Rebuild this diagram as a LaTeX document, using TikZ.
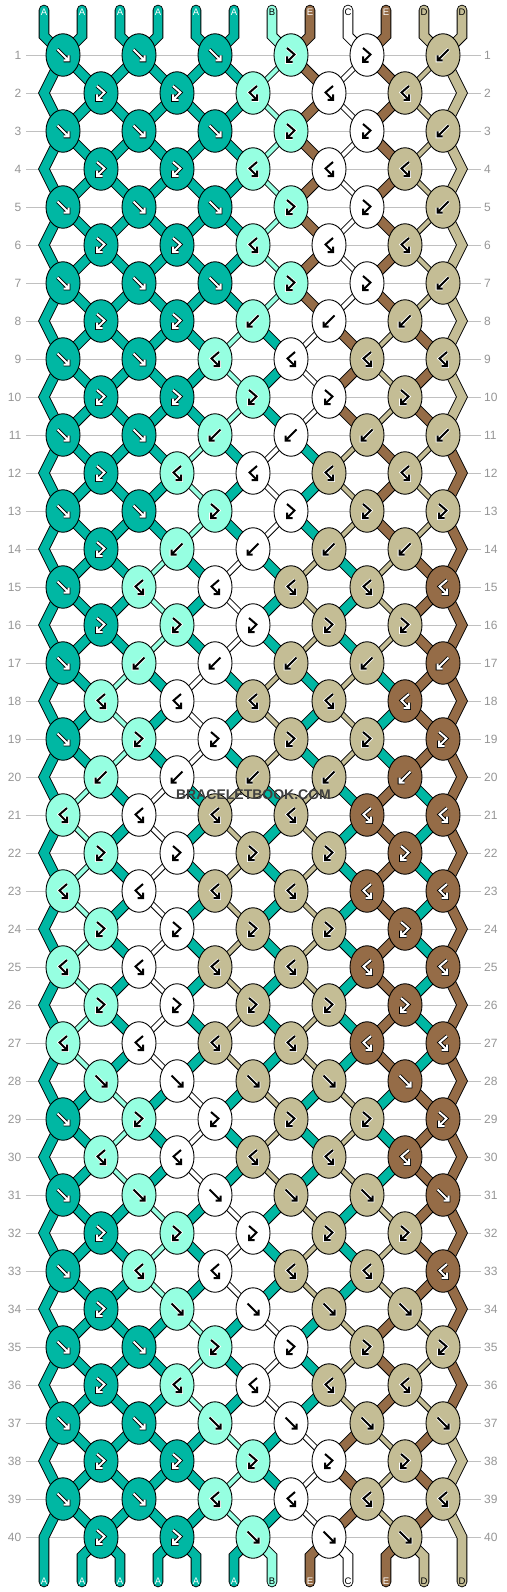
\documentclass[tikz,border=0pt]{standalone}
\usepackage{fontspec}
\setmainfont{Liberation Sans}
\usetikzlibrary{shapes.geometric}

\definecolor{thrA}{RGB}{0,183,163}
\definecolor{thrB}{RGB}{150,255,225}
\definecolor{thrC}{RGB}{255,255,255}
\definecolor{thrD}{RGB}{196,189,149}
\definecolor{thrE}{RGB}{149,108,71}
\definecolor{rowgray}{RGB}{192,192,192}
\definecolor{numgray}{RGB}{150,150,150}

\pgfdeclarelayer{grid}
\pgfdeclarelayer{threads}
\pgfsetlayers{grid,threads,main}

% colour of every string, kept across the rows
\newcommand\setstr[2]{\expandafter\xdef\csname str#1\endcsname{#2}}
\newcommand\getstr[1]{\csname str#1\endcsname}
\def\kindf{f}\def\kindb{b}\def\kindfb{fb}\def\kindbf{bf}

\tikzset{
  thread/.style={draw=black, line width=0.9pt, double=#1, double distance=8.8pt},
  thin thread/.style={draw=black, line width=0.9pt, double=#1, double distance=4.2pt},
  thread end/.style={thread=#1, line cap=round},
  knot/.style={ellipse, draw=black, line width=0.9pt, minimum width=34pt, minimum height=42.5pt, inner sep=0pt},
  pen dark/.style={draw=black, line width=0.8pt, double=white, double distance=2pt},
  pen light/.style={draw=white, line width=0.8pt, double=black, double distance=2pt},
  icon pen/.style={pen light},
  icon-f/.pic={\draw[icon pen] (-5.5,-5.5) -- (5.5,5.5) (0.5,5.5) -- (5.5,5.5) -- (5.5,0.5);},
  icon-b/.pic={\draw[icon pen] (5.5,-5.5) -- (-5.5,5.5) (-0.5,5.5) -- (-5.5,5.5) -- (-5.5,0.5);},
  icon-fb/.pic={\draw[icon pen] (-4,-7) -- (3.5,-0.5) -- (-4,7) (1.5,7) -- (-4,7) -- (-4,1.5);},
  icon-bf/.pic={\draw[icon pen] (4,-7) -- (-3.5,-0.5) -- (4,7) (-1.5,7) -- (4,7) -- (4,1.5);},
  rowline/.style={draw=rowgray, line width=0.9pt},
  rownum/.style={text=numgray, inner sep=0pt, font=\fontsize{12}{14}\selectfont},
  endtag/.style={inner sep=0pt, font=\fontsize{9.5}{10}\selectfont},
  watermark/.style={text=black!75, inner sep=0pt, font=\fontsize{14}{16}\selectfont\bfseries}
}

\begin{document}
\begin{tikzpicture}[x=1pt, y=-1pt]
\useasboundingbox (0,0) rectangle (506,1592);

% paper and row lines
\begin{pgfonlayer}{grid}
  \fill[white] (0,0) rectangle (506,1592);
  \foreach \r in {1,...,40} {
    \pgfmathtruncatemacro\y{55+38*(\r-1)}
    \draw[rowline] (26,\y) -- (481,\y);
  }
\end{pgfonlayer}
\foreach \r in {1,...,40} {
  \pgfmathtruncatemacro\y{55+38*(\r-1)}
  \node[rownum, anchor=east] (nl\r) at (21.5,\y) {\r};
  \node[rownum, anchor=west] (nr\r) at (484,\y) {\r};
}

% strings at the top
\foreach \s/\c/\tc in {0/A/white,1/A/white,2/A/white,3/A/white,4/A/white,5/A/white,
                       6/B/black,7/E/white,8/C/black,9/E/white,10/D/black,11/D/black} {
  \setstr{\s}{\c}
  \pgfmathtruncatemacro\x{44+38*\s}
  \coordinate (ts\s) at (\x,10);
  \coordinate (bs\s) at (\x,1582);
  \node[endtag, text=\tc] (lt\s) at (\x,12) {\c};
  \node[endtag, text=\tc] (lb\s) at (\x,1581) {\c};
}

% knots, row by row
\foreach \r/\kinds in {
  1/{f,f,f,fb,fb,b}, 2/{fb,fb,bf,bf,bf},
  3/{f,f,f,fb,fb,b}, 4/{fb,fb,bf,bf,bf},
  5/{f,f,f,fb,fb,b}, 6/{fb,fb,bf,bf,bf},
  7/{f,f,f,fb,fb,b}, 8/{fb,fb,b,b,b},
  9/{f,f,bf,bf,bf,bf}, 10/{fb,fb,fb,fb,fb},
  11/{f,f,b,b,b,b}, 12/{fb,bf,bf,bf,bf},
  13/{f,f,fb,fb,fb,fb}, 14/{fb,b,b,b,b},
  15/{f,bf,bf,bf,bf,bf}, 16/{fb,fb,fb,fb,fb},
  17/{f,b,b,b,b,b}, 18/{bf,bf,bf,bf,bf},
  19/{f,fb,fb,fb,fb,fb}, 20/{b,b,b,b,b},
  21/{bf,bf,bf,bf,bf,bf}, 22/{fb,fb,fb,fb,fb},
  23/{bf,bf,bf,bf,bf,bf}, 24/{fb,fb,fb,fb,fb},
  25/{bf,bf,bf,bf,bf,bf}, 26/{fb,fb,fb,fb,fb},
  27/{bf,bf,bf,bf,bf,bf}, 28/{f,f,f,f,f},
  29/{f,fb,fb,fb,fb,fb}, 30/{bf,bf,bf,bf,bf},
  31/{f,f,f,f,f,f}, 32/{fb,fb,fb,fb,fb},
  33/{f,bf,bf,bf,bf,bf}, 34/{fb,f,f,f,f},
  35/{f,f,fb,fb,fb,fb}, 36/{fb,bf,bf,bf,bf},
  37/{f,f,f,f,f,f}, 38/{fb,fb,fb,fb,fb},
  39/{f,f,bf,bf,bf,bf}, 40/{fb,fb,f,f,f}} {
  \pgfmathtruncatemacro\y{55+38*(\r-1)}
  \pgfmathtruncatemacro\rp{\r-1}
  \pgfmathtruncatemacro\rpp{\r-2}
  \coordinate (eL\r) at (44,\y);
  \coordinate (eR\r) at (462,\y);
  \foreach \kind [count=\n] in \kinds {
    \pgfmathtruncatemacro\i{2*(\n-1)+mod(\r+1,2)}
    \pgfmathtruncatemacro\j{\i+1}
    \pgfmathtruncatemacro\il{\i-1}
    \edef\lstr{\getstr{\i}}\edef\rstr{\getstr{\j}}
    \edef\lc{thr\lstr}\edef\rc{thr\rstr}
    \let\kstr\lstr \def\sw{0}
    \ifx\kind\kindb \let\kstr\rstr \def\sw{1}\fi
    \ifx\kind\kindf \def\sw{1}\fi
    \ifx\kind\kindbf \let\kstr\rstr \fi
    \edef\kc{thr\kstr}
    \node[knot, fill=\kc] (k\r-\i) at ({63+38*\i},\y) {};
    \if\kstr A\tikzset{icon pen/.style={pen dark}}\fi
    \if\kstr E\tikzset{icon pen/.style={pen dark}}\fi
    \pic at (k\r-\i.center) {icon-\kind};
    % dark strings look wide between the knots, light ones narrow
    \tikzset{lseg/.style={thin thread=\lc}, rseg/.style={thin thread=\rc}}
    \if\lstr A\tikzset{lseg/.style={thread=\lc}}\fi
    \if\lstr E\tikzset{lseg/.style={thread=\lc}}\fi
    \if\rstr A\tikzset{rseg/.style={thread=\rc}}\fi
    \if\rstr E\tikzset{rseg/.style={thread=\rc}}\fi
    \begin{pgfonlayer}{threads}
      \ifnum\r=1
        \draw[thread end=\lc] (ts\i) -- ++(0,26) -- (k\r-\i.center);
        \draw[thread end=\rc] (ts\j) -- ++(0,26) -- (k\r-\i.center);
      \else
        \ifnum\i=0
          \draw[thread=\lc] (k\rpp-0.center) -- (eL\rp) -- (k\r-\i.center);
        \else
          \draw[lseg] (k\rp-\il.center) -- (k\r-\i.center);
        \fi
        \ifnum\j=11
          \draw[thread=\rc] (k\rpp-10.center) -- (eR\rp) -- (k\r-\i.center);
        \else
          \draw[rseg] (k\rp-\j.center) -- (k\r-\i.center);
        \fi
      \fi
    \end{pgfonlayer}
    \ifnum\sw=1 \setstr{\i}{\rstr}\setstr{\j}{\lstr}\fi
  }
}

% strings at the bottom
\begin{pgfonlayer}{threads}
  \foreach \s in {0,...,11} {
    \edef\sc{thr\getstr{\s}}
    \pgfmathtruncatemacro\x{44+38*\s}
    \pgfmathtruncatemacro\kk{\s-mod(\s+1,2)}
    \ifnum\s=0
      \draw[thread end=\sc] (k39-0.center) -- (eL40) -- (bs0);
    \else\ifnum\s=11
      \draw[thread end=\sc] (k39-10.center) -- (eR40) -- (bs11);
    \else
      \draw[thread end=\sc] (k40-\kk.center) -- (\x,1556) -- (bs\s);
    \fi\fi
  }
\end{pgfonlayer}

\node[watermark] (wm) at (253.5,795) {BRACELETBOOK.COM};
\end{tikzpicture}
\end{document}
